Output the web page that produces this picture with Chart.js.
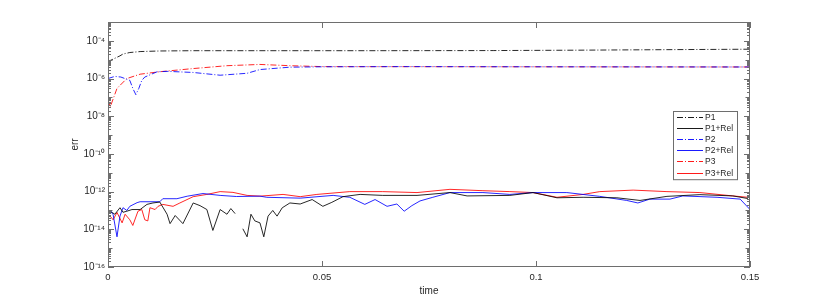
<!DOCTYPE html>
<html>
<head>
<meta charset="utf-8">
<script src="https://cdn.jsdelivr.net/npm/chart.js@4.4.0/dist/chart.umd.min.js"></script>
<style>
html, body { margin:0; padding:0; background:#fff; }
</style>
</head>
<body>
<canvas id="err_chart" width="830" height="300"></canvas>
<script>
// axis ticks
const xTicks = [0, 0.05, 0.1, 0.15];
const xTickLabels = ['0', '0.05', '0.1', '0.15'];
const yTicks = [1e-16, 1e-14, 1e-12, 1e-10, 1e-8, 1e-6, 1e-4];
const yTickLabels = ['10⁻¹⁶', '10⁻¹⁴', '10⁻¹²', '10⁻¹⁰', '10⁻⁸', '10⁻⁶', '10⁻⁴'];

// P1 (dash-dot, black)
const tP1 = [0, 0.0005, 0.0028, 0.0035, 0.0051, 0.0075, 0.0121, 0.02, 0.035, 0.06, 0.09, 0.11, 0.13, 0.15];
const errP1 = [7e-6, 9e-6, 1.6e-5, 2.0e-5, 2.4e-5, 2.7e-5, 2.9e-5, 3.0e-5, 3.0e-5, 3.0e-5, 3.05e-5, 3.2e-5, 3.4e-5, 3.6e-5];

// P1+Rel (solid, black) - null = gap
const tP1Rel = [0.0005, 0.0016, 0.0028, 0.0035, 0.0044, 0.0056, 0.0075, 0.0091, 0.0105, 0.0121, 0.0138, 0.0145, 0.0157, 0.0175,
  0.0199, 0.0215, 0.0231, 0.0245, 0.0262, 0.0278, 0.0287, 0.0297, 0.0305, 0.0315, 0.0325, 0.0334, 0.0343, 0.0355, 0.0364,
  0.0374, 0.0385, 0.0395, 0.0407, 0.0425, 0.0449, 0.0477, 0.0502, 0.0523, 0.0549, 0.0589, 0.0642, 0.0722, 0.0799, 0.0839,
  0.0939, 0.0993, 0.1049, 0.111, 0.1189, 0.1243, 0.1306, 0.1383, 0.146, 0.1495];
const errP1Rel = [9.1e-14, 6.3e-14, 1.4e-13, 8e-14, 9.1e-14, 1.12e-13, 1.12e-13, 2.1e-13, 2.5e-13, 2.8e-13, 6.3e-14, 2.0e-14, 5.4e-14, 2.0e-14,
  2.5e-13, 1.8e-13, 1.12e-13, 8.7e-15, 1.12e-13, 6.3e-14, 1.26e-13, 6.8e-14, null, 1.07e-14, 4.0e-15, 6.3e-14, 2.8e-14, 2.2e-14, 4.0e-15,
  5.0e-14, 1.0e-13, 5.0e-14, 1.38e-13, 2.5e-13, 2.2e-13, 3.8e-13, 1.66e-13, 2.7e-13, 5.4e-13, 7.1e-13, 6.3e-13, 6.3e-13, 8.9e-13, 5.9e-13,
  6.3e-13, 8.9e-13, 4.7e-13, 5.0e-13, 4.7e-13, 3.4e-13, 5.6e-13, 6.9e-13, 5.9e-13, 4.3e-13];

// P2 (dash-dot, blue)
const tP2 = [0, 0.0016, 0.003, 0.0051, 0.0058, 0.0065, 0.0072, 0.0079, 0.0086, 0.0115, 0.014, 0.0199, 0.0262, 0.0325, 0.0355, 0.0425, 0.05, 0.07, 0.1, 0.15];
const errP2 = [1.0e-6, 1.3e-6, 1.2e-6, 8e-7, 3e-7, 1.4e-7, 3e-7, 8e-7, 1.2e-6, 2.3e-6, 2.4e-6, 2.1e-6, 1.5e-6, 1.9e-6, 3.0e-6, 4.0e-6, 4.2e-6, 4.3e-6, 4.2e-6, 4.1e-6];

// P2+Rel (solid, blue)
const tP2Rel = [0.0005, 0.0012, 0.0021, 0.0028, 0.0035, 0.0044, 0.0051, 0.0068, 0.0075, 0.0121, 0.0128, 0.0161, 0.0185, 0.0222, 0.0262,
  0.03, 0.0355, 0.0371, 0.0449, 0.0526, 0.0565, 0.06, 0.0624, 0.0652, 0.0675, 0.0692, 0.071, 0.0729, 0.0759, 0.0799, 0.0876, 0.0939,
  0.0993, 0.1072, 0.1149, 0.1212, 0.1238, 0.1266, 0.1313, 0.1343, 0.1423, 0.1477, 0.15];
const errP2Rel = [1.02e-13, 6e-14, 4e-15, 5e-14, 1.4e-13, 1e-13, 1.66e-13, 2.6e-13, 2.9e-13, 2.9e-13, 4.2e-13, 4.2e-13, 5.7e-13, 7.9e-13, 6.3e-13,
  5.5e-13, 5.75e-13, 5.0e-13, 4.5e-13, 6.3e-13, 5.0e-13, 2.1e-13, 3.8e-13, 1.66e-13, 2.2e-13, 9.1e-14, 1.8e-13, 3.2e-13, 5.0e-13, 8.9e-13, 8.9e-13, 7.1e-13,
  8.9e-13, 8.9e-13, 5.6e-13, 3.4e-13, 2.5e-13, 4.0e-13, 4.0e-13, 5.9e-13, 5.0e-13, 4.0e-13, 1.12e-13];

// P3 (dash-dot, red)
const tP3 = [0, 0.0005, 0.0021, 0.0044, 0.0075, 0.0121, 0.02, 0.0278, 0.0355, 0.0425, 0.05, 0.1, 0.15];
const errP3 = [8e-8, 3e-8, 3e-7, 1e-6, 1.7e-6, 2.3e-6, 3.4e-6, 4.8e-6, 5.6e-6, 4.8e-6, 4.3e-6, 4.2e-6, 4.1e-6];

// P3+Rel (solid, red)
const tP3Rel = [0.0005, 0.0012, 0.0021, 0.0033, 0.004, 0.0051, 0.0058, 0.007, 0.0079, 0.0086, 0.0093, 0.0098, 0.011, 0.0117, 0.0128,
  0.0152, 0.0168, 0.0199, 0.0231, 0.0262, 0.0292, 0.0325, 0.0355, 0.0409, 0.0449, 0.0488, 0.0565, 0.0642, 0.0722, 0.0799, 0.0876,
  0.0939, 0.0993, 0.1049, 0.111, 0.1149, 0.1227, 0.1306, 0.1383, 0.146, 0.1495];
const errP3Rel = [5e-14, 3.2e-14, 7.9e-14, 2.2e-14, 6.3e-14, 3.2e-14, 1.6e-14, 9.1e-14, 1.12e-13, 3.2e-14, 2.8e-14, 1.4e-13, 1.12e-13, 1.66e-13, 2.1e-13,
  1.66e-13, 2.5e-13, 5.4e-13, 7.1e-13, 1.0e-12, 9.1e-13, 6.3e-13, 5.75e-13, 7.1e-13, 5.4e-13, 7.1e-13, 1.0e-12, 1.0e-12, 8.9e-13, 1.32e-12, 1.12e-12,
  1.0e-12, 8.9e-13, 5.0e-13, 7.1e-13, 1.0e-12, 1.2e-12, 1.0e-12, 8.9e-13, 5.9e-13, 5.0e-13];

const dashDot = [6, 2, 1, 2];
const toXY = (t, e) => t.map((v, i) => ({x: v, y: e[i]}));

function series(label, t, e, color, dash) {
	return {
		label: label,
		data: toXY(t, e),
		borderColor: color,
		backgroundColor: color,
		borderWidth: 0.85,
		borderDash: dash,
		pointRadius: 0,
		tension: 0,
		spanGaps: false,
	};
}

// matlab style box + inward ticks
const axesBox = {
	id: 'axesBox',
	afterDatasetsDraw(chart) {
		const {ctx, chartArea: a, scales: {x, y}} = chart;
		ctx.save();
		ctx.strokeStyle = '#6e6e6e';
		ctx.lineWidth = 1;
		ctx.setLineDash([]);
		ctx.beginPath();
		xTicks.forEach(v => {
			const px = Math.round(x.getPixelForValue(v)) + 0.5;
			ctx.moveTo(px, a.bottom); ctx.lineTo(px, a.bottom - 6);
			ctx.moveTo(px, a.top); ctx.lineTo(px, a.top + 6);
		});
		for (let k = -16; k < -3; k++) {
			for (let m = 1; m < 10; m++) {
				const v = m * Math.pow(10, k);
				const py = Math.round(y.getPixelForValue(v)) + 0.5;
				const len = m === 1 ? (k % 2 === 0 ? 6 : 4.5) : 3;
				ctx.moveTo(a.left, py); ctx.lineTo(a.left + len, py);
				ctx.moveTo(a.right, py); ctx.lineTo(a.right - len, py);
			}
		}
		ctx.stroke();
		ctx.strokeRect(Math.round(a.left) + 0.5, Math.round(a.top) + 0.5, Math.round(a.width) - 1, Math.round(a.height) - 1);
		ctx.restore();
	}
};

// legend box inside the axes
const boxLegend = {
	id: 'boxLegend',
	afterDraw(chart) {
		const {ctx, chartArea: a} = chart;
		const sets = chart.data.datasets;
		const rowH = 11.2, w = 64, h = sets.length * rowH + 1;
		const left = a.right - 77, top = a.top + 89;
		ctx.save();
		ctx.fillStyle = '#fff';
		ctx.fillRect(left, top, w, h);
		ctx.strokeStyle = '#6e6e6e';
		ctx.lineWidth = 1;
		ctx.strokeRect(left + 0.5, top + 0.5, w, h);
		ctx.font = '8.5px "Liberation Sans", Arial, sans-serif';
		ctx.textBaseline = 'middle';
		sets.forEach((d, i) => {
			const cy = Math.round(top + 5.5 + i * rowH) + 0.5;
			ctx.strokeStyle = d.borderColor;
			ctx.lineWidth = 0.9;
			ctx.setLineDash(d.borderDash || []);
			ctx.beginPath();
			ctx.moveTo(left + 4, cy); ctx.lineTo(left + 30, cy);
			ctx.stroke();
			ctx.setLineDash([]);
			ctx.fillStyle = '#262626';
			ctx.fillText(d.label, left + 32, cy);
		});
		ctx.restore();
	}
};

const errCtx = document.getElementById('err_chart').getContext('2d');
const err_chart = new Chart(errCtx, {
	type: 'line',
	plugins: [axesBox, boxLegend],
	data: {
		datasets: [
			series('P1', tP1, errP1, '#000000', dashDot),
			series('P1+Rel', tP1Rel, errP1Rel, '#000000', []),
			series('P2', tP2, errP2, '#0000ff', dashDot),
			series('P2+Rel', tP2Rel, errP2Rel, '#0000ff', []),
			series('P3', tP3, errP3, '#ff0000', dashDot),
			series('P3+Rel', tP3Rel, errP3Rel, '#ff0000', []),
		]
	},
	options: {
		responsive: false,
		animation: false,
		devicePixelRatio: 1,
		layout: { padding: { left: 66, right: 80, top: 22, bottom: 0 } },
		scales: {
			x: {
				type: 'linear',
				min: 0,
				max: 0.15,
				afterBuildTicks: s => { s.ticks = xTicks.map(v => ({value: v})); },
				afterFit: s => { s.height = 33; },
				grid: { display: false, drawTicks: false },
				border: { display: false },
				ticks: {
					padding: 5,
					color: '#262626',
					maxRotation: 0,
					font: { size: 9.5, family: '"Liberation Sans", Arial, sans-serif' },
					callback: (v, i) => xTickLabels[i],
				},
				title: {
					display: true,
					text: 'time',
					color: '#262626',
					padding: { top: 0, bottom: 3 },
					font: { size: 10, family: '"Liberation Sans", Arial, sans-serif' },
				}
			},
			y: {
				type: 'logarithmic',
				min: 1e-16,
				max: 1e-3,
				afterBuildTicks: s => { s.ticks = yTicks.map(v => ({value: v})); },
				afterFit: s => { s.width = 42; },
				grid: { display: false, drawTicks: false },
				border: { display: false },
				ticks: {
					padding: 3,
					color: '#262626',
					font: { size: 10, family: '"Liberation Sans", Arial, sans-serif' },
					callback: (v, i) => yTickLabels[i],
				},
				title: {
					display: true,
					text: 'err',
					color: '#262626',
					padding: { top: 3, bottom: 0 },
					font: { size: 10, family: '"Liberation Sans", Arial, sans-serif' },
				}
			}
		},
		plugins: {
			legend: { display: false },
			tooltip: { enabled: false },
		}
	}
});
</script>
</body>
</html>
